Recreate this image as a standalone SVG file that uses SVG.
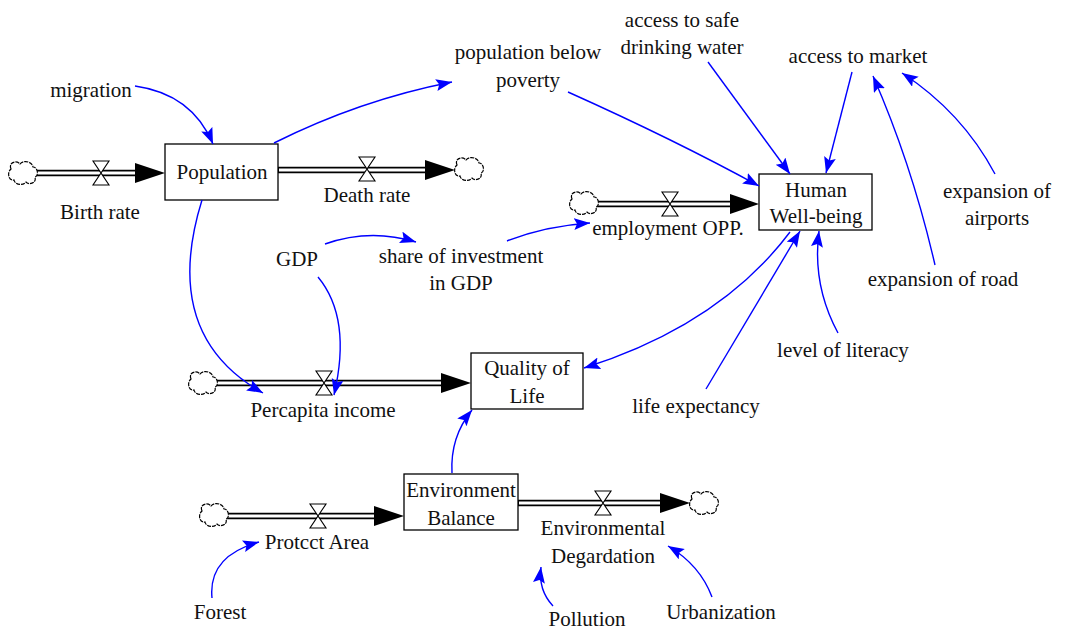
<svg xmlns="http://www.w3.org/2000/svg" width="1069" height="630" viewBox="0 0 1069 630" font-family="'Liberation Serif', 'DejaVu Serif', serif">
  <style>
    text { font-family: "Liberation Serif", "DejaVu Serif", serif; font-size: 21px; fill: #111; text-anchor: middle; }
    .box { fill: #fff; stroke: #000; stroke-width: 1.3; }
    .pipe-out { stroke: #000; stroke-width: 6.5; fill: none; }
    .pipe-in { stroke: #fff; stroke-width: 3; fill: none; }
    .flowhead { fill: #000; }
    .link { stroke: #0000ff; stroke-width: 1.4; fill: none; marker-end: url(#arrow); }
  </style>
  <defs>
    <marker id="arrow" markerUnits="userSpaceOnUse" markerWidth="18" markerHeight="14" refX="16" refY="6" orient="auto">
      <path d="M0,0 L16,6 L0,12 L3,6 Z" fill="#0000ff"/>
    </marker>
    <g id="cloud">
      <path d="M-12,-4 C-15,-11 -6,-13 -3,-9 C0,-13 9,-12 10,-6 C15,-6 16,3 12,4 C14,11 5,12 3,9 C0,13 -8,12 -9,7 C-15,8 -16,-1 -12,-4 Z" fill="#fff" stroke="#000" stroke-width="1.2" stroke-dasharray="4,1"/>
    </g>
    <g id="valve">
      <path d="M-8,-12 L8,-12 L-8,12 L8,12 Z" fill="#fff" stroke="#000" stroke-width="1.1"/>
    </g>
  </defs>

  <!-- flows (pipes, valves, clouds) -->
  <g id="flow-birth">
    <line class="pipe-out" x1="36" y1="173" x2="140" y2="173"/>
    <line class="pipe-in" x1="34" y1="173" x2="140" y2="173"/>
    <polygon class="flowhead" points="135,163 165,173 135,183"/>
    <use href="#cloud" x="23" y="173"/>
    <use href="#valve" x="101" y="173"/>
    <text x="100" y="219">Birth rate</text>
  </g>
  <g id="flow-death">
    <line class="pipe-out" x1="278" y1="170" x2="430" y2="170"/>
    <line class="pipe-in" x1="279" y1="170" x2="430" y2="170"/>
    <polygon class="flowhead" points="425,160 455,170 425,180"/>
    <use href="#cloud" x="469" y="169"/>
    <use href="#valve" x="367" y="169"/>
    <text x="367" y="202">Death rate</text>
  </g>
  <g id="flow-employment">
    <line class="pipe-out" x1="597" y1="204" x2="735" y2="204"/>
    <line class="pipe-in" x1="595" y1="204" x2="735" y2="204"/>
    <polygon class="flowhead" points="730,194 759,204 730,214"/>
    <use href="#cloud" x="584" y="203"/>
    <use href="#valve" x="670" y="204"/>
    <text x="668" y="235">employment OPP.</text>
  </g>
  <g id="flow-percapita">
    <line class="pipe-out" x1="216" y1="383" x2="445" y2="383"/>
    <line class="pipe-in" x1="214" y1="383" x2="445" y2="383"/>
    <polygon class="flowhead" points="441,373 471,383 441,393"/>
    <use href="#cloud" x="203" y="383"/>
    <use href="#valve" x="324" y="383"/>
    <text x="323" y="417">Percapita income</text>
  </g>
  <g id="flow-protect">
    <line class="pipe-out" x1="227" y1="516" x2="378" y2="516"/>
    <line class="pipe-in" x1="225" y1="516" x2="378" y2="516"/>
    <polygon class="flowhead" points="374,506 404,516 374,526"/>
    <use href="#cloud" x="214" y="515"/>
    <use href="#valve" x="318" y="516"/>
    <text x="317" y="549">Protcct Area</text>
  </g>
  <g id="flow-degradation">
    <line class="pipe-out" x1="518" y1="503" x2="664" y2="503"/>
    <line class="pipe-in" x1="519" y1="503" x2="664" y2="503"/>
    <polygon class="flowhead" points="660,493 690,503 660,513"/>
    <use href="#cloud" x="704" y="503"/>
    <use href="#valve" x="603" y="503"/>
    <text x="603" y="535">Environmental</text>
    <text x="603" y="563">Degardation</text>
  </g>

  <!-- stocks -->
  <g id="population">
    <rect class="box" x="165" y="144" width="113" height="56"/>
    <text x="222" y="179">Population</text>
  </g>
  <g id="human-wellbeing">
    <rect class="box" x="759" y="174" width="113" height="56"/>
    <text x="816" y="197">Human</text>
    <text x="816" y="223">Well-being</text>
  </g>
  <g id="quality-of-life">
    <rect class="box" x="471" y="353" width="112" height="56"/>
    <text x="527" y="375">Quality of</text>
    <text x="527" y="403">Life</text>
  </g>
  <g id="environment-balance">
    <rect class="box" x="404" y="474" width="114" height="56"/>
    <text x="461" y="497">Environment</text>
    <text x="461" y="525">Balance</text>
  </g>

  <!-- auxiliary variables -->
  <g id="migration"><text x="91" y="97">migration</text></g>
  <g id="population-below-poverty"><text x="528" y="59">population below</text><text x="528" y="87">poverty</text></g>
  <g id="access-safe-water"><text x="682" y="27">access to safe</text><text x="682" y="54">drinking water</text></g>
  <g id="access-market"><text x="858" y="63">access to market</text></g>
  <g id="expansion-airports"><text x="997" y="198">expansion of</text><text x="997" y="225">airports</text></g>
  <g id="expansion-road"><text x="943" y="286">expansion of road</text></g>
  <g id="level-literacy"><text x="843" y="357">level of literacy</text></g>
  <g id="life-expectancy"><text x="696" y="413">life expectancy</text></g>
  <g id="gdp"><text x="297" y="266">GDP</text></g>
  <g id="share-investment"><text x="461" y="263">share of investment</text><text x="461" y="290">in GDP</text></g>
  <g id="forest"><text x="220" y="619">Forest</text></g>
  <g id="pollution"><text x="587" y="626">Pollution</text></g>
  <g id="urbanization"><text x="721" y="619">Urbanization</text></g>

  <!-- causal links -->
  <g id="connectors">
    <path class="link" d="M135,86 Q192,94 213,144"/>
    <path class="link" d="M274,143 Q360,100 452,82"/>
    <path class="link" d="M202,200 Q160,335 263,393"/>
    <path class="link" d="M325,244 Q370,228 416,242"/>
    <path class="link" d="M507,241 Q545,226 590,223"/>
    <path class="link" d="M318,277 Q352,318 334,395"/>
    <path class="link" d="M568,92 Q675,140 759,186"/>
    <path class="link" d="M708,62 L790,174"/>
    <path class="link" d="M852,72 L826,173"/>
    <path class="link" d="M935,265 Q912,165 873,76"/>
    <path class="link" d="M995,174 Q962,112 902,73"/>
    <path class="link" d="M790,232 Q720,325 584,368"/>
    <path class="link" d="M706,389 L800,231"/>
    <path class="link" d="M838,333 Q812,285 819,231"/>
    <path class="link" d="M452,473 Q450,437 472,410"/>
    <path class="link" d="M212,598 Q208,556 259,542"/>
    <path class="link" d="M553,606 Q538,590 541,567"/>
    <path class="link" d="M712,597 Q700,565 668,546"/>
  </g>
</svg>
